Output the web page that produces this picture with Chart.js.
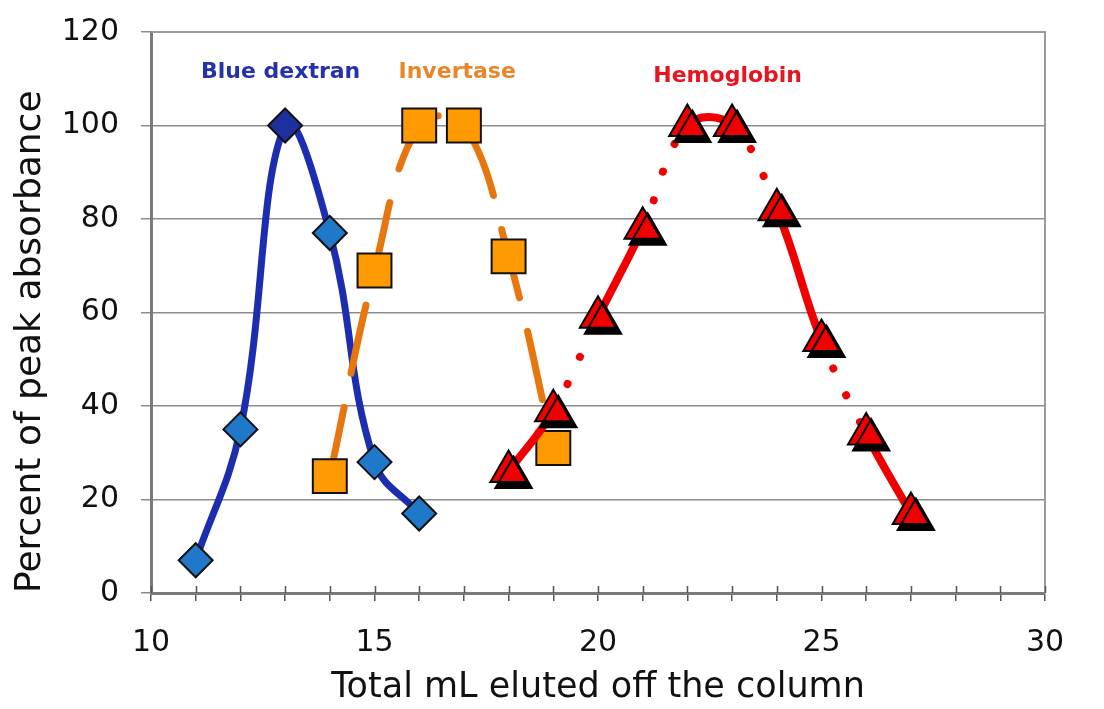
<!DOCTYPE html>
<html>
<head>
<meta charset="utf-8">
<script src="https://cdn.jsdelivr.net/npm/chart.js@4/dist/chart.umd.min.js"></script>
<style>
  html, body { margin: 0; padding: 0; background: #fff; }
  #wrap { width: 1104px; height: 709px; }
</style>
</head>
<body>
<div id="wrap"><canvas id="chart" width="1104" height="709"></canvas></div>
<script>
// values
const blueX = [11, 12, 13, 14, 15, 16];
const blueY = [7, 35, 100, 77, 28, 17];
const invX = [14, 15, 16, 17, 18, 19];
const invY = [25, 69, 100, 100, 72, 31];
const hemoX = [18, 19, 20, 21, 22, 23, 24, 25, 26, 27];
const hemoY = [26, 39, 59, 78, 100, 100, 82, 54, 34, 17];
const xTicks = [10, 15, 20, 25, 30];
const yTicks = [0, 20, 40, 60, 80, 100, 120];

const toPts = (xs, ys) => xs.map((x, i) => ({ x: x, y: ys[i] }));

const FONT = "'DejaVu Sans', Verdana, sans-serif";

// black drop shadow under the hemoglobin triangles
const shadowPlugin = {
  id: "shadow",
  beforeDatasetDraw(chart, args) {
    if (!args.meta._dataset.shadow) return;
    const ctx = chart.ctx;
    ctx.save();
    ctx.shadowColor = "#000";
    ctx.shadowBlur = 0;
    ctx.shadowOffsetX = 5;
    ctx.shadowOffsetY = 6;
  },
  afterDatasetDraw(chart, args) {
    if (!args.meta._dataset.shadow) return;
    chart.ctx.restore();
  }
};

// frame round the plot area, ticks across the x axis, series names
const framePlugin = {
  id: "frame",
  beforeDatasetsDraw(chart) {
    const a = chart.chartArea, ctx = chart.ctx, xs = chart.scales.x;
    ctx.save();
    ctx.strokeStyle = "#9a9a9a";
    ctx.lineWidth = 2;
    ctx.beginPath();
    ctx.moveTo(a.left, a.top);
    ctx.lineTo(a.right, a.top);
    ctx.lineTo(a.right, a.bottom);
    ctx.stroke();
    ctx.strokeStyle = "#555";
    ctx.lineWidth = 1.5;
    ctx.beginPath();
    xs.ticks.forEach(t => {
      const px = Math.round(xs.getPixelForValue(t.value)) + 0.5;
      ctx.moveTo(px, a.bottom - 7);
      ctx.lineTo(px, a.bottom);
    });
    ctx.stroke();
    ctx.restore();
  },
  afterDraw(chart) {
    const ctx = chart.ctx, xs = chart.scales.x, ys = chart.scales.y;
    const labels = [
      ["Blue dextran", "#2433a8", 12.9, 111.4],
      ["Invertase", "#e8862a", 16.85, 111.4],
      ["Hemoglobin", "#e8141e", 22.9, 110.6]
    ];
    ctx.save();
    ctx.font = "bold 22px " + FONT;
    ctx.textAlign = "center";
    ctx.textBaseline = "middle";
    labels.forEach(l => {
      ctx.fillStyle = l[1];
      ctx.fillText(l[0], xs.getPixelForValue(l[2]), ys.getPixelForValue(l[3]));
    });
    ctx.restore();
  }
};

new Chart(document.getElementById("chart").getContext("2d"), {
  type: "scatter",
  data: {
    datasets: [
      {
        label: "Hemoglobin markers",
        data: toPts(hemoX, hemoY),
        showLine: false,
        shadow: true,
        pointStyle: "triangle",
        pointRadius: 21,
        pointHoverRadius: 21,
        pointBackgroundColor: "#f00000",
        pointBorderColor: "#000",
        pointBorderWidth: 2,
        order: 0
      },
      {
        label: "Hemoglobin",
        data: toPts(hemoX, hemoY),
        showLine: true,
        borderColor: "#f00000",
        borderWidth: 8,
        borderCapStyle: "round",
        tension: 0.4,
        pointRadius: 0,
        segment: {
          borderDash: ctx => (ctx.p0DataIndex % 2 ? [0.1, 30] : undefined)
        },
        order: 1
      },
      {
        label: "Invertase",
        data: toPts(invX, invY),
        showLine: true,
        borderColor: "#e8760f",
        borderWidth: 7,
        borderCapStyle: "round",
        borderDash: [70, 35],
        tension: 0.4,
        pointStyle: "rect",
        pointRadius: 24,
        pointHoverRadius: 24,
        pointBackgroundColor: "#ff9a00",
        pointBorderColor: "#111",
        pointBorderWidth: 2,
        order: 2
      },
      {
        label: "Blue dextran",
        data: toPts(blueX, blueY),
        showLine: true,
        borderColor: "#1c2db0",
        borderWidth: 7,
        tension: 0.4,
        pointStyle: "rectRot",
        pointRadius: 17,
        pointHoverRadius: 17,
        pointBackgroundColor: c => (c.raw && c.raw.y === Math.max(...blueY) ? "#1e2f9e" : "#1f78c8"),
        pointBorderColor: "#111",
        pointBorderWidth: 2,
        order: 3
      }
    ]
  },
  options: {
    responsive: false,
    animation: false,
    layout: { padding: { top: 32, right: 59, left: 0, bottom: 0 } },
    plugins: {
      legend: { display: false },
      tooltip: { enabled: false }
    },
    scales: {
      x: {
        type: "linear",
        min: 10,
        max: 30,
        afterBuildTicks: axis => {
          const t = [];
          for (let v = 10; v <= 30; v++) t.push({ value: v });
          axis.ticks = t;
        },
        afterFit: axis => {
          axis.height = 116;
          axis.paddingLeft = 0;
          axis.paddingRight = 0;
        },
        ticks: {
          autoSkip: false,
          maxRotation: 0,
          padding: 24,
          color: "#111",
          font: { family: FONT, size: 30 },
          callback: v => (xTicks.includes(v) ? v : "")
        },
        grid: { drawOnChartArea: false, tickLength: 8, color: "#555", lineWidth: 1.5 },
        border: { color: "#7a7a7a", width: 3 },
        title: {
          display: true,
          text: "Total mL eluted off the column",
          color: "#111",
          font: { family: FONT, size: 35 },
          padding: { top: 0, bottom: 0 }
        }
      },
      y: {
        min: 0,
        max: 120,
        afterBuildTicks: axis => { axis.ticks = yTicks.map(v => ({ value: v })); },
        afterFit: axis => {
          axis.width = 151;
          axis.paddingTop = 0;
          axis.paddingBottom = 0;
        },
        ticks: {
          padding: 22,
          color: "#111",
          font: { family: FONT, size: 30 }
        },
        grid: { color: "#8c8c8c", lineWidth: 1.5, tickLength: 10 },
        border: { color: "#7a7a7a", width: 3 },
        title: {
          display: true,
          align: "start",
          text: "Percent of peak absorbance",
          color: "#111",
          font: { family: FONT, size: 36 },
          padding: { top: 9, bottom: 0 }
        }
      }
    }
  },
  plugins: [shadowPlugin, framePlugin]
});
</script>
</body>
</html>
